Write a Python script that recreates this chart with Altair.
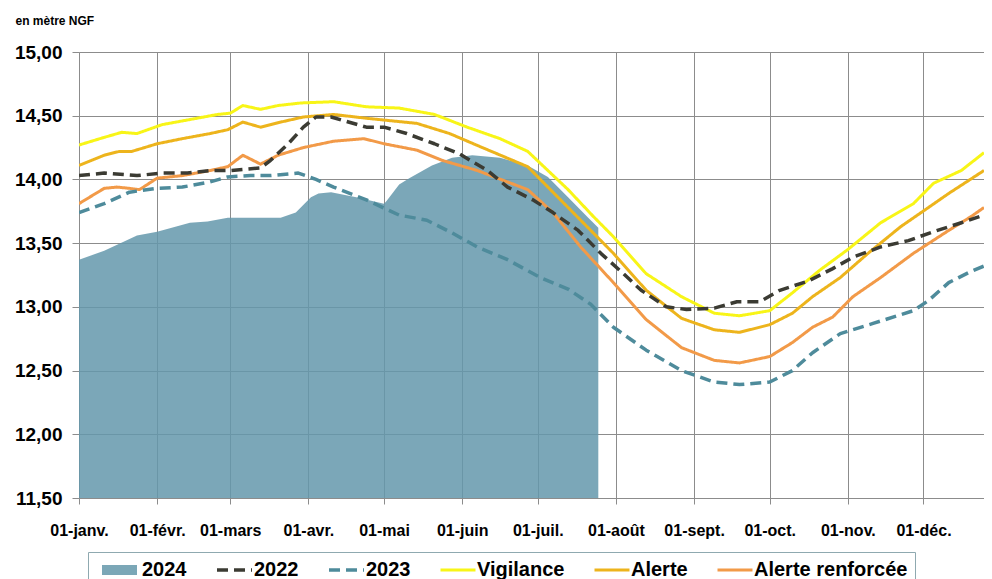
import json
import altair as alt
import pandas as pd

# ---------------- data ----------------
series = ["2024", "2022", "2023", "Vigilance", "Alerte", "Alerte renforcée"]
colors = ["#7BA7B7", "#3B3B33", "#4E8B9B", "#F8F517", "#EDB41C", "#F29A48"]
month_labels = ["01-janv.", "01-févr.", "01-mars", "01-avr.", "01-mai", "01-juin",
                "01-juil.", "01-août", "01-sept.", "01-oct.", "01-nov.", "01-déc."]
y_ticks = [11.5, 12.0, 12.5, 13.0, 13.5, 14.0, 14.5, 15.0]

# day offsets from 1 Jan 2024 and levels (m NGF)
days_2024 = [0, 10, 23, 31, 44, 51, 59, 69, 80, 86, 92, 95, 100, 110, 121, 122, 127,
             131, 140, 148, 156, 167, 178, 186, 194, 202, 206]
vals_2024 = [13.37, 13.44, 13.56, 13.59, 13.66, 13.67, 13.70, 13.70, 13.70, 13.74, 13.86,
             13.89, 13.90, 13.86, 13.81, 13.83, 13.96, 14.01, 14.11, 14.17, 14.19, 14.17,
             14.11, 14.02, 13.86, 13.70, 13.62]

days_2022 = [0, 10, 23, 33, 43, 52, 60, 72, 76, 83, 89, 94, 100, 114, 121, 130, 141, 151,
             162, 170, 180, 188, 198, 207, 216, 223, 233, 241, 252, 261, 270, 278, 289,
             299, 307, 318, 329, 339, 350, 359]
vals_2022 = [14.03, 14.05, 14.03, 14.05, 14.05, 14.07, 14.07, 14.09, 14.15, 14.28, 14.41,
             14.49, 14.49, 14.41, 14.41, 14.36, 14.28, 14.20, 14.07, 13.94, 13.84, 13.74,
             13.60, 13.42, 13.26, 13.13, 13.00, 12.98, 12.99, 13.04, 13.04, 13.13, 13.20,
             13.30, 13.39, 13.47, 13.52, 13.59, 13.66, 13.72]

days_2023 = [0, 10, 20, 31, 41, 52, 59, 68, 76, 87, 94, 101, 114, 127, 138, 148, 158, 170,
             183, 194, 203, 212, 225, 239, 252, 262, 274, 283, 291, 302, 315, 331, 337,
             345, 353, 359]
vals_2023 = [13.74, 13.81, 13.90, 13.93, 13.94, 13.98, 14.02, 14.03, 14.03, 14.05, 14.00,
             13.94, 13.84, 13.72, 13.68, 13.58, 13.47, 13.37, 13.23, 13.14, 13.02, 12.84,
             12.66, 12.50, 12.41, 12.39, 12.41, 12.50, 12.64, 12.79, 12.87, 12.97, 13.05,
             13.19, 13.27, 13.32]

days_vig = [0, 10, 17, 23, 33, 44, 55, 60, 65, 72, 79, 88, 101, 114, 127, 141, 154, 167,
            178, 186, 194, 204, 212, 225, 239, 252, 262, 274, 283, 294, 305, 318, 331,
            339, 350, 359]
vals_vig = [14.27, 14.33, 14.37, 14.36, 14.43, 14.47, 14.51, 14.52, 14.58, 14.55, 14.58,
            14.60, 14.61, 14.57, 14.56, 14.51, 14.41, 14.32, 14.22, 14.07, 13.92, 13.71,
            13.55, 13.26, 13.08, 12.95, 12.93, 12.97, 13.11, 13.29, 13.45, 13.66, 13.81,
            13.97, 14.07, 14.21]

days_al = [0, 10, 16, 21, 31, 41, 52, 59, 65, 72, 80, 89, 101, 114, 134, 147, 160, 178,
           186, 196, 207, 212, 225, 239, 252, 262, 274, 283, 291, 302, 313, 326, 337,
           345, 359]
vals_al = [14.11, 14.19, 14.22, 14.22, 14.28, 14.32, 14.36, 14.39, 14.45, 14.41, 14.45,
           14.49, 14.51, 14.48, 14.44, 14.36, 14.25, 14.10, 13.94, 13.74, 13.52, 13.42,
           13.13, 12.91, 12.82, 12.80, 12.86, 12.95, 13.08, 13.23, 13.42, 13.63, 13.78,
           13.89, 14.07]

days_ar = [0, 10, 15, 20, 24, 31, 41, 52, 59, 65, 72, 79, 89, 101, 113, 121, 134, 144,
           158, 178, 188, 199, 212, 225, 239, 252, 262, 274, 283, 291, 299, 307, 318,
           331, 345, 354, 359]
vals_ar = [13.81, 13.93, 13.94, 13.93, 13.92, 14.01, 14.03, 14.07, 14.10, 14.19, 14.12,
           14.19, 14.25, 14.30, 14.32, 14.28, 14.23, 14.15, 14.07, 13.92, 13.74, 13.47,
           13.19, 12.90, 12.68, 12.58, 12.56, 12.61, 12.72, 12.84, 12.92, 13.08, 13.23,
           13.42, 13.60, 13.71, 13.78]

START = pd.Timestamp("2024-01-01")


def build(name, days, vals):
    return pd.DataFrame({
        "date": [(START + pd.Timedelta(days=d)).strftime("%Y-%m-%d") for d in days],
        "serie": name,
        "niveau": vals,
    })


area_df = build("2024", days_2024, vals_2024)
lines_df = pd.concat([
    build("Alerte renforcée", days_ar, vals_ar),
    build("Alerte", days_al, vals_al),
    build("Vigilance", days_vig, vals_vig),
    build("2023", days_2023, vals_2023),
    build("2022", days_2022, vals_2022),
], ignore_index=True)

FONT = "Liberation Sans"

x_enc = alt.X(
    "date:T",
    scale=alt.Scale(type="utc", domain=[alt.DateTime(year=2024, month=1, date=1, utc=True),
                                        alt.DateTime(year=2024, month=12, date=25, utc=True)]),
    axis=alt.Axis(
        values=[alt.DateTime(year=2024, month=m, date=1, utc=True) for m in range(1, 13)],
        labelExpr=json.dumps(month_labels, ensure_ascii=False) + "[utcmonth(datum.value)]",
        title=None, labelFontSize=16, labelPadding=18, tickSize=6,
        labelFlush=False, labelOverlap=False,
    ),
)

y_enc = alt.Y(
    "niveau:Q",
    scale=alt.Scale(domain=[11.5, 15.0], nice=False, zero=False),
    axis=alt.Axis(
        values=y_ticks,
        labelExpr="replace(format(datum.value, '.2f'), '.', ',')",
        labelFontSize=19, labelPadding=10, tickSize=7,
        title="en mètre NGF", titleAngle=0, titleX=-64, titleY=-32,
        titleAlign="left", titleBaseline="middle", titleFontSize=12,
        titleFontWeight="bold", titleColor="black", titleFont=FONT,
    ),
)

area = alt.Chart(area_df).mark_area(
    clip=True, fill="#6498AB", opacity=0.85, interpolate="linear"
).encode(x=x_enc, y=y_enc, y2=alt.datum(11.5))

lines = alt.Chart(lines_df).mark_line(clip=True, strokeJoin="round").encode(
    x=x_enc,
    y=y_enc,
    color=alt.Color("serie:N", scale=alt.Scale(domain=series, range=colors),
                    legend=alt.Legend(title=None)),
    strokeDash=alt.StrokeDash("serie:N",
                              scale=alt.Scale(type="ordinal", domain=series,
                                              range=[[1, 0], [11, 6], [11, 6], [1, 0], [1, 0], [1, 0]]),
                              legend=alt.Legend(title=None)),
    strokeWidth=alt.StrokeWidth("serie:N",
                                scale=alt.Scale(type="ordinal", domain=series,
                                                range=[10, 3.5, 3.5, 3, 3, 3]),
                                legend=alt.Legend(title=None)),
)

chart = alt.layer(area, lines).properties(
    width=905,
    height=446,
    autosize=alt.AutoSizeParams(type="none"),
    padding={"left": 71, "top": 44, "right": 0, "bottom": 90},
).configure_view(
    stroke=None
).configure_axis(
    gridColor="#8c8c8c", gridWidth=1, domainColor="#8c8c8c", tickColor="#8c8c8c",
    labelFont=FONT, labelFontWeight="bold", labelColor="black",
).configure_legend(
    orient="none", legendX=9, legendY=500, direction="horizontal",
    symbolType="stroke", symbolSize=1225, symbolOffset=2, labelFont=FONT, labelFontSize=20,
    labelFontWeight="bold", labelColor="black", labelOffset=0, columnPadding=26,
    padding=7, clipHeight=22, strokeColor="#8fa9b0",
)

chart.save("out.html", embed_options={"renderer": "svg", "actions": False})
